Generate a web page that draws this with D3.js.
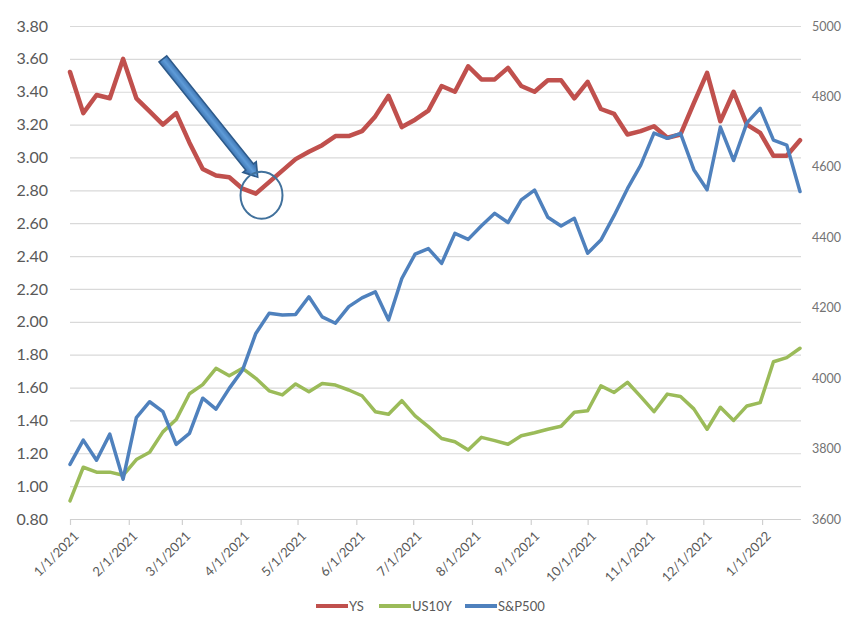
<!DOCTYPE html>
<html><head><meta charset="utf-8">
<script src="https://cdn.jsdelivr.net/npm/d3@7"></script>
<style>body{margin:0;background:#fff}svg{display:block}</style>
</head><body><svg id="c" width="848" height="624"></svg>
<script>
const dates = ["2021-01-01","2021-01-08","2021-01-15","2021-01-22","2021-01-29","2021-02-05","2021-02-12","2021-02-19","2021-02-26",
"2021-03-05","2021-03-12","2021-03-19","2021-03-26","2021-04-02","2021-04-09","2021-04-16","2021-04-23","2021-04-30",
"2021-05-07","2021-05-14","2021-05-21","2021-05-28","2021-06-04","2021-06-11","2021-06-18","2021-06-25",
"2021-07-02","2021-07-09","2021-07-16","2021-07-23","2021-07-30","2021-08-06","2021-08-13","2021-08-20","2021-08-27",
"2021-09-03","2021-09-10","2021-09-17","2021-09-24","2021-10-01","2021-10-08","2021-10-15","2021-10-22","2021-10-29",
"2021-11-05","2021-11-12","2021-11-19","2021-11-26","2021-12-03","2021-12-10","2021-12-17","2021-12-24","2021-12-31",
"2022-01-07","2022-01-14","2022-01-21"];
const ys = [3.52,3.27,3.38,3.36,3.60,3.36,3.28,3.20,3.27,3.09,2.93,2.89,2.88,2.81,2.78,2.85,2.92,2.99,3.035,3.075,
3.13,3.13,3.16,3.25,3.375,3.185,3.23,3.285,3.435,3.40,3.555,3.475,3.475,3.545,3.435,3.40,3.47,3.47,3.36,3.46,
3.295,3.265,3.14,3.16,3.19,3.12,3.14,3.33,3.515,3.22,3.40,3.20,3.15,3.01,3.01,3.105];
const us10y = [0.91,1.115,1.085,1.085,1.066,1.162,1.206,1.33,1.405,1.562,1.618,1.717,1.672,1.717,1.656,1.58,1.555,1.622,
1.575,1.625,1.615,1.585,1.55,1.453,1.437,1.52,1.427,1.362,1.29,1.27,1.22,1.297,1.277,1.255,1.307,1.325,1.346,1.364,
1.45,1.459,1.61,1.57,1.632,1.545,1.453,1.56,1.545,1.47,1.346,1.48,1.40,1.488,1.508,1.757,1.782,1.839];
const sp500 = [3755,3824,3767,3841,3713,3888,3933,3905,3812,3843,3943,3912,3971,4023,4127,4184,4179,4181,4231,4174,
4156,4203,4228,4245,4165,4283,4352,4368,4326,4411,4394,4433,4468,4442,4506,4534,4457,4432,4454,4355,
4392,4462,4538,4605,4696,4681,4695,4592,4535,4713,4618,4725,4766,4676,4662,4530];
const leftTicks = [0.8,1.0,1.2,1.4,1.6,1.8,2.0,2.2,2.4,2.6,2.8,3.0,3.2,3.4,3.6,3.8];
const rightTicks = [3600,3800,4000,4200,4400,4600,4800,5000];
const seriesNames = ["YS","US10Y","S&P500"];
const seriesColors = ["#C0504D","#9BBB59","#4F81BD"];
// annotation anchors (date, left-axis value)
const arrowFrom = ["2021-02-19", 3.60];
const arrowTo = ["2021-04-10", 2.88];
const circleAt = ["2021-04-12", 2.77];

const parse = d3.utcParse("%Y-%m-%d");
const L = 70, R = 800, T = 26, B = 519;
const x = d3.scaleUtc().domain([parse(dates[0]), parse(dates[dates.length-1])]).range([L, R]);
const yL = d3.scaleLinear().domain([0.8, 3.8]).range([B, T]);
const yR = d3.scaleLinear().domain([3600, 5000]).range([B, T]);

const svg = d3.select("#c");
svg.append("rect").attr("width",848).attr("height",624).attr("fill","#fff");

// gridlines
const grid = svg.append("g").attr("transform",`translate(${L},0)`)
  .call(d3.axisLeft(yL).tickValues(leftTicks).tickSize(-(R+1-L)).tickFormat(""));
grid.select(".domain").remove();
grid.selectAll("line").attr("stroke","#D9D9D9").attr("stroke-width",1.2);

// left axis labels
const ga = svg.append("g").attr("transform",`translate(${L},0)`)
  .call(d3.axisLeft(yL).tickValues(leftTicks).tickFormat(d3.format(".2f")).tickSize(0).tickPadding(22));
ga.select(".domain").remove();
ga.selectAll("text").attr("font-family","Lato, sans-serif").attr("font-size",16).attr("fill","#595959");

// right axis labels
const gr = svg.append("g").attr("transform",`translate(${R+1},0)`)
  .call(d3.axisRight(yR).tickValues(rightTicks).tickSize(0).tickPadding(11).tickFormat(d3.format("d")));
gr.select(".domain").remove();
gr.selectAll("text").attr("font-family","Lato, sans-serif").attr("font-size",12.5).attr("fill","#737373");

// bottom axis
const gx = svg.append("g").attr("transform",`translate(0,${B})`)
  .call(d3.axisBottom(x).ticks(d3.utcMonth.every(1)).tickSize(6).tickSizeOuter(0).tickFormat(d3.utcFormat("%-m/%-d/%Y")));
gx.select(".domain").attr("stroke","#D0D0D0").attr("stroke-width",1.2);
gx.selectAll(".tick line").attr("stroke","#D0D0D0").attr("stroke-width",1.2);
gx.selectAll("text").attr("font-family","Lato, sans-serif").attr("font-size",13).attr("fill","#595959")
  .attr("text-anchor","end").attr("x",0).attr("y",0).attr("dy",0)
  .attr("transform","translate(9,18) rotate(-45)");

// lines
const series = [ys, us10y, sp500];
const scales = [yL, yL, yR];
const widths = [4.5, 3.5, 3.5];
series.forEach((vals, k) => {
  const line = d3.line().x((d,i) => x(parse(dates[i]))).y(d => scales[k](d));
  svg.append("path").datum(vals).attr("d", line).attr("fill","none")
    .attr("stroke", seriesColors[k]).attr("stroke-width", widths[k])
    .attr("stroke-linejoin","round").attr("stroke-linecap","round");
});

// annotation: arrow
(function(){
  const x0 = x(parse(arrowFrom[0])), y0 = yL(arrowFrom[1]);
  const x1 = x(parse(arrowTo[0])), y1 = yL(arrowTo[1]);
  const dx = x1-x0, dy = y1-y0, len = Math.hypot(dx,dy);
  const ux = dx/len, uy = dy/len, px = -uy, py = ux;
  const sw = 4.9, hw = 8.5, hl = 13;
  const bx = x1 - ux*hl, by = y1 - uy*hl;
  const pts = [
    [x0+px*sw, y0+py*sw],[bx+px*sw, by+py*sw],[bx+px*hw, by+py*hw],[x1,y1],
    [bx-px*hw, by-py*hw],[bx-px*sw, by-py*sw],[x0-px*sw, y0-py*sw]];
  const defs = svg.append("defs");
  const gr2 = defs.append("linearGradient").attr("id","ag")
    .attr("gradientUnits","userSpaceOnUse")
    .attr("x1", x0+px*sw).attr("y1", y0+py*sw).attr("x2", x0-px*sw).attr("y2", y0-py*sw);
  gr2.append("stop").attr("offset","0").attr("stop-color","#3F76B3");
  gr2.append("stop").attr("offset","0.5").attr("stop-color","#5E9BD8");
  gr2.append("stop").attr("offset","1").attr("stop-color","#3F76B3");
  svg.append("path").attr("d","M"+pts.map(p=>p.join(",")).join("L")+"Z")
    .attr("fill","url(#ag)").attr("stroke","#2D5A8A").attr("stroke-width",1.6).attr("stroke-linejoin","miter");
})();
// annotation: circle
svg.append("ellipse").attr("cx", x(parse(circleAt[0]))).attr("cy", yL(circleAt[1]))
  .attr("rx",21).attr("ry",23.5).attr("fill","none").attr("stroke","#41719C").attr("stroke-width",2);

// legend
const legX = [316, 379, 465];
const leg = svg.append("g").attr("font-family","Lato, sans-serif").attr("font-size",13).attr("fill","#595959");
seriesNames.forEach((n,k) => {
  leg.append("line").attr("x1",legX[k]).attr("x2",legX[k]+32).attr("y1",606).attr("y2",606)
    .attr("stroke",seriesColors[k]).attr("stroke-width",4);
  leg.append("text").attr("x",legX[k]+33).attr("y",606).attr("dy","0.35em").text(n);
});
</script></body></html>
